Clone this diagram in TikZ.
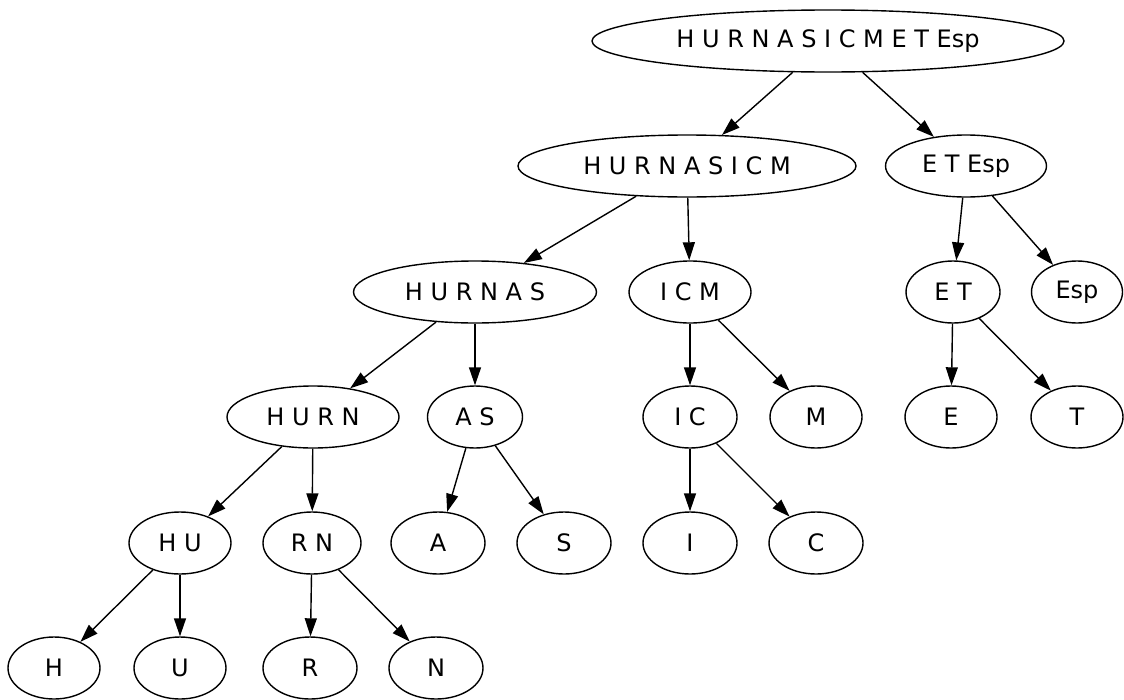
\documentclass[tikz,border=0pt]{standalone}
\usepackage{fontspec}
\setmainfont{DejaVu Sans}
\usetikzlibrary{arrows.meta,shapes.geometric}

\begin{document}
\begin{tikzpicture}[x=1pt,y=-1pt,>={Triangle[length=18pt,width=12pt]},
			tnode/.style = {draw, shape=ellipse, line width=1.4pt, minimum height=62pt,
				inner sep=0pt, font=\fontsize{24}{28}\selectfont},
			link/.style = {->, line width=1.4pt}
			]
			\useasboundingbox (0,0) rectangle (1124,699);
			% levels
			\node [tnode, minimum width=472pt] (root) at (828,41) {H U R N A S I C M E T Esp};
			\node [tnode, minimum width=338pt] (hurnasicm) at (687,166) {H U R N A S I C M};
			\node [tnode, minimum width=161pt] (etesp) at (966,166) {E T Esp};
			\node [tnode, minimum width=243pt] (hurnas) at (475,292) {H U R N A S};
			\node [tnode, minimum width=122pt] (icm) at (690,292) {I C M};
			\node [tnode, minimum width=94pt] (et) at (953,292) {E T};
			\node [tnode, minimum width=91pt] (esp) at (1077,292) {Esp};
			\node [tnode, minimum width=172pt] (hurn) at (313,417) {H U R N};
			\node [tnode, minimum width=95pt] (as) at (475,417) {A S};
			\node [tnode, minimum width=94pt] (ic) at (690,417) {I C};
			\node [tnode, minimum width=92pt] (m) at (816,417) {M};
			\node [tnode, minimum width=92pt] (e) at (951,417) {E};
			\node [tnode, minimum width=92pt] (t) at (1077,417) {T};
			\node [tnode, minimum width=102pt] (hu) at (180,543) {H U};
			\node [tnode, minimum width=98pt] (rn) at (312,543) {R N};
			\node [tnode, minimum width=94pt] (a) at (438,543) {A};
			\node [tnode, minimum width=94pt] (s) at (564,543) {S};
			\node [tnode, minimum width=94pt] (i) at (690,543) {I};
			\node [tnode, minimum width=94pt] (c) at (816,543) {C};
			\node [tnode, minimum width=92pt] (h) at (54,668) {H};
			\node [tnode, minimum width=92pt] (u) at (180,668) {U};
			\node [tnode, minimum width=94pt] (r) at (310,668) {R};
			\node [tnode, minimum width=94pt] (n) at (436,668) {N};
			% edges
			\draw[link] (root) -- (hurnasicm);
			\draw[link] (root) -- (etesp);
			\draw[link] (hurnasicm) -- (hurnas);
			\draw[link] (hurnasicm) -- (icm);
			\draw[link] (etesp) -- (et);
			\draw[link] (etesp) -- (esp);
			\draw[link] (hurnas) -- (hurn);
			\draw[link] (hurnas) -- (as);
			\draw[link] (icm) -- (ic);
			\draw[link] (icm) -- (m);
			\draw[link] (et) -- (e);
			\draw[link] (et) -- (t);
			\draw[link] (hurn) -- (hu);
			\draw[link] (hurn) -- (rn);
			\draw[link] (as) -- (a);
			\draw[link] (as) -- (s);
			\draw[link] (ic) -- (i);
			\draw[link] (ic) -- (c);
			\draw[link] (hu) -- (h);
			\draw[link] (hu) -- (u);
			\draw[link] (rn) -- (r);
			\draw[link] (rn) -- (n);
		\end{tikzpicture}
\end{document}
